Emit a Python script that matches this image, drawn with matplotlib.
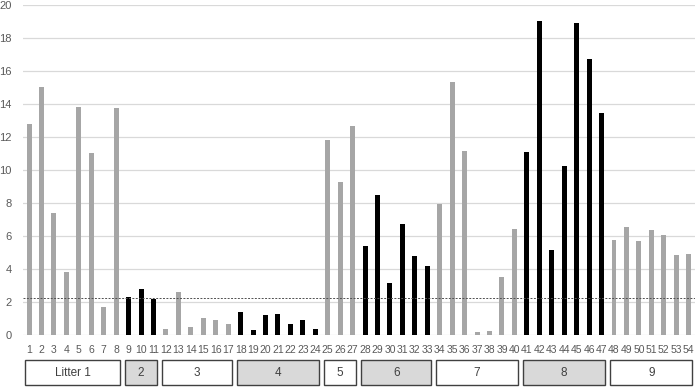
import matplotlib
matplotlib.use("Agg")
import matplotlib.pyplot as plt
from matplotlib.patches import Rectangle
from matplotlib.transforms import blended_transform_factory

samples = list(range(1, 55))
values = [12.77, 15.01, 7.41, 3.82, 13.8, 11.01, 1.68, 13.74,
          2.28, 2.77, 2.2,
          0.36, 2.6, 0.48, 1.01, 0.93, 0.67,
          1.41, 0.32, 1.21, 1.29, 0.65, 0.91, 0.38,
          11.8, 9.25, 12.65,
          5.39, 8.48, 3.17, 6.73, 4.77, 4.18,
          7.94, 15.31, 11.17, 0.16, 0.24, 3.54, 6.42,
          11.07, 19.05, 5.13, 10.26, 18.91, 16.71, 13.43,
          5.76, 6.53, 5.68, 6.38, 6.06, 4.85, 4.91]
highlight = [9, 10, 11, 18, 19, 20, 21, 22, 23, 24, 28, 29, 30, 31, 32, 33,
             41, 42, 43, 44, 45, 46, 47]
threshold = 2.22
group_labels = ["Litter 1", "2", "3", "4", "5", "6", "7", "8", "9"]
group_start = [1, 9, 12, 18, 25, 28, 34, 41, 48]
group_end = [8, 11, 17, 24, 27, 33, 40, 47, 54]
yticks = [0, 2, 4, 6, 8, 10, 12, 14, 16, 18, 20]

fig = plt.figure(figsize=(6.97, 3.87), dpi=100)
ax = fig.add_axes([22.8 / 697, 52 / 387, (694.9 - 22.8) / 697, 330 / 387])

colors = ["#000000" if s in highlight else "#a6a6a6" for s in samples]
ax.bar(samples, values, width=0.4, color=colors, zorder=3)
ax.axhline(threshold, color="#505050", lw=0.7, ls=(0, (2, 1.5)), zorder=4)

ax.set_xlim(0.5, 54.5)
ax.set_ylim(0, 20)
ax.set_yticks(yticks)
ax.set_xticks(samples)
ax.set_xticklabels([str(s) for s in samples])
ax.yaxis.grid(True, color="#d9d9d9", lw=0.9, zorder=0)
ax.set_axisbelow(True)
for sp in ax.spines.values():
    sp.set_visible(False)
ax.tick_params(axis="both", length=0, colors="#595959")
ax.tick_params(axis="x", pad=7, labelsize=7.5)
ax.tick_params(axis="y", pad=8, labelsize=8)
for lbl in ax.get_xticklabels() + ax.get_yticklabels():
    lbl.set_fontfamily("Liberation Sans")

trans = blended_transform_factory(ax.transData, ax.transAxes)
y0 = -50 / 330
h = 25 / 330
for i, (lab, s, e) in enumerate(zip(group_labels, group_start, group_end)):
    left = s - 0.5 + 0.2
    right = e + 0.5 - 0.2
    fc = "#d9d9d9" if i % 2 == 1 else "white"
    r = Rectangle((left, y0), right - left, h, transform=trans, clip_on=False,
                  facecolor=fc, edgecolor="#404040", lw=1.0)
    ax.add_patch(r)
    ax.text((left + right) / 2, y0 + h / 2, lab, transform=trans, ha="center",
            va="center", fontsize=8.5, color="#404040", family="Liberation Sans")

fig.savefig("out.png", dpi=100)
